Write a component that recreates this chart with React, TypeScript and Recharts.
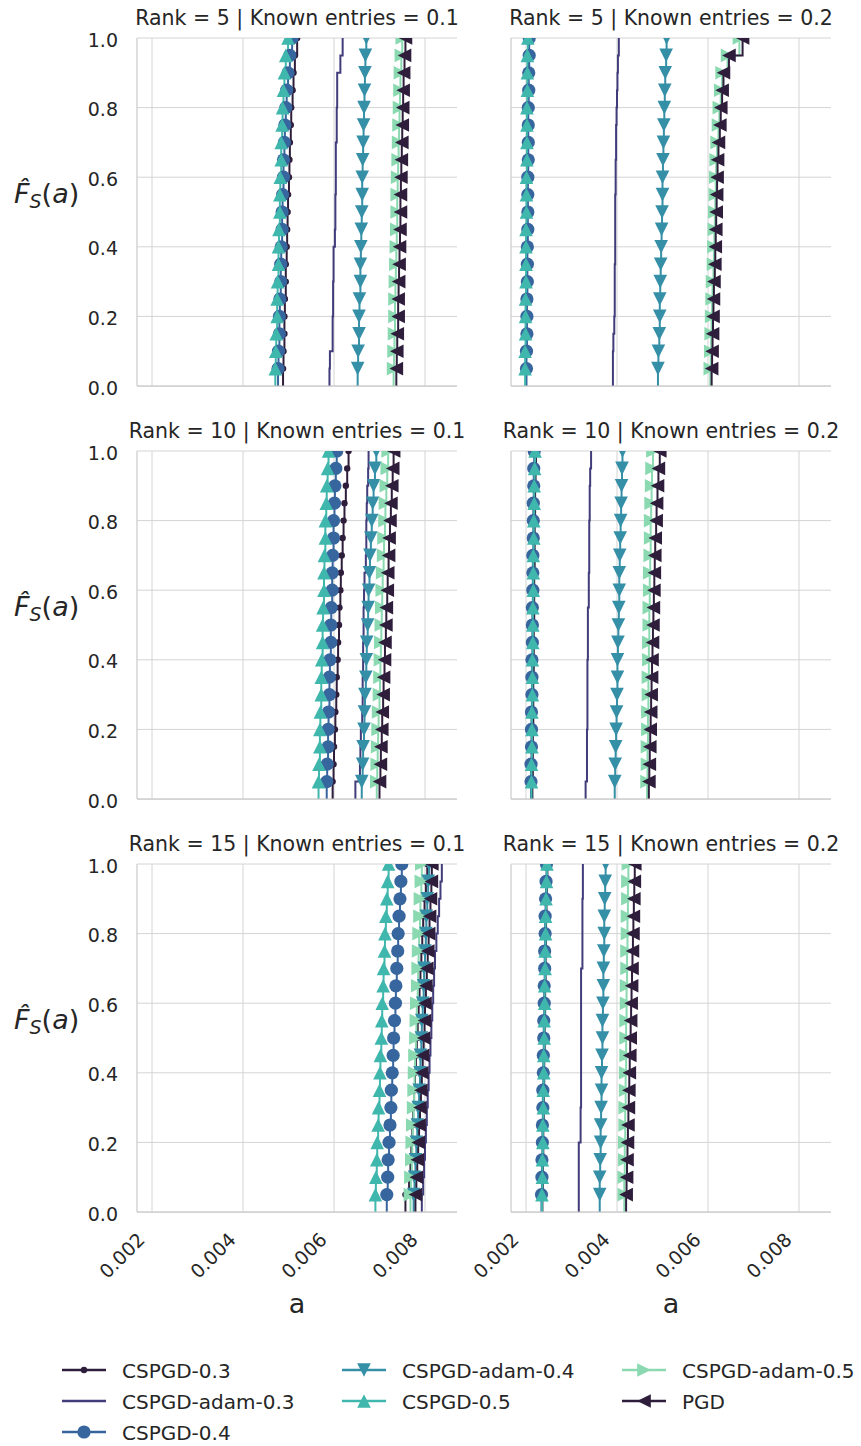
import React from 'react';
import { LineChart, Line, XAxis, YAxis, CartesianGrid } from 'recharts';

// methods in hue order, mako colours (PGD wraps back to the first colour)
const methods = ['CSPGD-0.3', 'CSPGD-adam-0.3', 'CSPGD-0.4', 'CSPGD-adam-0.4', 'CSPGD-0.5', 'CSPGD-adam-0.5', 'PGD'];
const colors = ['#2e1e3b', '#413d7b', '#37659e', '#348fa7', '#40b7ad', '#8ad9b1', '#2e1e3b'];
const markers = ['dot', 'none', 'circle', 'down', 'up', 'right', 'left'];

const ranks = [5, 10, 15];
const knownEntries = [0.1, 0.2];
const xTicks = [0.002, 0.004, 0.006, 0.008];
const yTicks = [0, 0.2, 0.4, 0.6, 0.8, 1];
const xDomain = [0.00167, 0.0087033];

// 20 runs per method, one row per method (same order as `methods`)
const rank5Known01 = [
  [0.00488, 0.00489, 0.00491, 0.00491, 0.00492, 0.00494, 0.00494, 0.00496, 0.00497, 0.00498, 0.00499, 0.00501, 0.00502, 0.00503, 0.00505, 0.00506, 0.00509, 0.00511, 0.00514, 0.00519],
  [0.0059, 0.00591, 0.00597, 0.00597, 0.00598, 0.00598, 0.00599, 0.00599, 0.00602, 0.00603, 0.00603, 0.00604, 0.00604, 0.00604, 0.00606, 0.00606, 0.00607, 0.00607, 0.00614, 0.00619],
  [0.00477, 0.00478, 0.0048, 0.0048, 0.00481, 0.00483, 0.00483, 0.00484, 0.00486, 0.00486, 0.00487, 0.00489, 0.00489, 0.00491, 0.00492, 0.00494, 0.00496, 0.00499, 0.00503, 0.00508],
  [0.00652, 0.00653, 0.00655, 0.00655, 0.00656, 0.00658, 0.00658, 0.00659, 0.0066, 0.00661, 0.00662, 0.00662, 0.00663, 0.00664, 0.00665, 0.00666, 0.00667, 0.00668, 0.00669, 0.00671],
  [0.00471, 0.00472, 0.00473, 0.00475, 0.00475, 0.00476, 0.00478, 0.00478, 0.00479, 0.00481, 0.00481, 0.00482, 0.00484, 0.00484, 0.00486, 0.00487, 0.00489, 0.00491, 0.00494, 0.00499],
  [0.00731, 0.00732, 0.00733, 0.00734, 0.00734, 0.00735, 0.00736, 0.00737, 0.00738, 0.00739, 0.00739, 0.0074, 0.00741, 0.00742, 0.00743, 0.00744, 0.00745, 0.00746, 0.00748, 0.0075],
  [0.00737, 0.00738, 0.00739, 0.00741, 0.00741, 0.00742, 0.00743, 0.00744, 0.00745, 0.00746, 0.00746, 0.00747, 0.00748, 0.00749, 0.0075, 0.00751, 0.00752, 0.00753, 0.00755, 0.00757],
];

const rank5Known02 = [
  [0.002, 0.002, 0.00201, 0.00201, 0.00201, 0.00201, 0.00202, 0.00202, 0.00202, 0.00202, 0.00203, 0.00203, 0.00203, 0.00203, 0.00203, 0.00204, 0.00204, 0.00204, 0.00205, 0.00205],
  [0.00391, 0.00391, 0.00392, 0.00394, 0.00395, 0.00395, 0.00395, 0.00396, 0.00396, 0.00396, 0.00396, 0.00397, 0.00397, 0.00398, 0.00398, 0.00399, 0.004, 0.00401, 0.00402, 0.00404],
  [0.00201, 0.00201, 0.00202, 0.00202, 0.00202, 0.00203, 0.00203, 0.00203, 0.00204, 0.00204, 0.00204, 0.00204, 0.00205, 0.00205, 0.00205, 0.00205, 0.00206, 0.00206, 0.00207, 0.00207],
  [0.0049, 0.00491, 0.00493, 0.00494, 0.00494, 0.00495, 0.00496, 0.00497, 0.00498, 0.00499, 0.005, 0.005, 0.00501, 0.00502, 0.00503, 0.00504, 0.00505, 0.00506, 0.00508, 0.00509],
  [0.00198, 0.00198, 0.00199, 0.00199, 0.00199, 0.002, 0.002, 0.002, 0.002, 0.00201, 0.00201, 0.00201, 0.00202, 0.00202, 0.00202, 0.00202, 0.00203, 0.00203, 0.00203, 0.00204],
  [0.00605, 0.00606, 0.00607, 0.00608, 0.00609, 0.0061, 0.00612, 0.00613, 0.00614, 0.00615, 0.00616, 0.00617, 0.00618, 0.0062, 0.00623, 0.00625, 0.00628, 0.00631, 0.00643, 0.00669],
  [0.00608, 0.00609, 0.0061, 0.00611, 0.00612, 0.00613, 0.00615, 0.00616, 0.00617, 0.00618, 0.00619, 0.0062, 0.00621, 0.00623, 0.00626, 0.00628, 0.00631, 0.00634, 0.00646, 0.00676],
];

const rank10Known01 = [
  [0.00597, 0.00599, 0.006, 0.00602, 0.00603, 0.00605, 0.00606, 0.00608, 0.00609, 0.00611, 0.00612, 0.00614, 0.00615, 0.00617, 0.00619, 0.00621, 0.00623, 0.00626, 0.00629, 0.00632],
  [0.00647, 0.00657, 0.00658, 0.00659, 0.00662, 0.00663, 0.00663, 0.00664, 0.00664, 0.00665, 0.00665, 0.00666, 0.00667, 0.0067, 0.00671, 0.00671, 0.00672, 0.00673, 0.00675, 0.00676],
  [0.00584, 0.00585, 0.00587, 0.00587, 0.00588, 0.0059, 0.0059, 0.00591, 0.00593, 0.00593, 0.00594, 0.00596, 0.00596, 0.00597, 0.00599, 0.00599, 0.00601, 0.00602, 0.00604, 0.00606],
  [0.00661, 0.00663, 0.00664, 0.00666, 0.00667, 0.00668, 0.0067, 0.00671, 0.00672, 0.00674, 0.00675, 0.00676, 0.00678, 0.00679, 0.00681, 0.00683, 0.00685, 0.00687, 0.0069, 0.00693],
  [0.00566, 0.00567, 0.00569, 0.00569, 0.0057, 0.00572, 0.00572, 0.00573, 0.00575, 0.00575, 0.00576, 0.00578, 0.00578, 0.00579, 0.00581, 0.00581, 0.00583, 0.00584, 0.00586, 0.00588],
  [0.00694, 0.00695, 0.00696, 0.00697, 0.00698, 0.007, 0.00701, 0.00702, 0.00703, 0.00704, 0.00705, 0.00706, 0.00707, 0.00709, 0.0071, 0.00712, 0.00713, 0.00715, 0.00717, 0.00719],
  [0.007, 0.00702, 0.00703, 0.00705, 0.00706, 0.00708, 0.00709, 0.00711, 0.00712, 0.00714, 0.00715, 0.00717, 0.00718, 0.0072, 0.00721, 0.00723, 0.00725, 0.00727, 0.00729, 0.00731],
];

const rank10Known02 = [
  [0.00214, 0.00215, 0.00215, 0.00215, 0.00216, 0.00216, 0.00216, 0.00217, 0.00217, 0.00217, 0.00218, 0.00218, 0.00218, 0.00219, 0.00219, 0.00219, 0.0022, 0.0022, 0.00221, 0.00222],
  [0.00331, 0.00334, 0.00334, 0.00334, 0.00335, 0.00335, 0.00335, 0.00335, 0.00336, 0.00336, 0.00336, 0.00338, 0.00338, 0.00339, 0.00339, 0.00339, 0.0034, 0.0034, 0.00341, 0.00343],
  [0.00211, 0.00211, 0.00212, 0.00212, 0.00212, 0.00213, 0.00213, 0.00213, 0.00214, 0.00214, 0.00214, 0.00215, 0.00215, 0.00215, 0.00216, 0.00216, 0.00216, 0.00217, 0.00217, 0.00218],
  [0.00395, 0.00396, 0.00397, 0.00398, 0.00399, 0.004, 0.00401, 0.00401, 0.00402, 0.00403, 0.00404, 0.00405, 0.00405, 0.00406, 0.00407, 0.00408, 0.00409, 0.0041, 0.00411, 0.00412],
  [0.00212, 0.00212, 0.00213, 0.00213, 0.00213, 0.00214, 0.00214, 0.00214, 0.00215, 0.00215, 0.00215, 0.00216, 0.00216, 0.00216, 0.00217, 0.00217, 0.00218, 0.00218, 0.00219, 0.0022],
  [0.00466, 0.00467, 0.00467, 0.00468, 0.00468, 0.00469, 0.00469, 0.0047, 0.0047, 0.00471, 0.00471, 0.00472, 0.00472, 0.00473, 0.00474, 0.00474, 0.00475, 0.00476, 0.00477, 0.00479],
  [0.0047, 0.00471, 0.00472, 0.00473, 0.00474, 0.00475, 0.00476, 0.00477, 0.00478, 0.00479, 0.0048, 0.00481, 0.00482, 0.00483, 0.00484, 0.00486, 0.00487, 0.00489, 0.00491, 0.00494],
];

const rank15Known01 = [
  [0.00757, 0.00765, 0.00768, 0.0077, 0.00772, 0.00774, 0.00776, 0.00778, 0.0078, 0.00782, 0.00784, 0.00786, 0.00788, 0.0079, 0.00792, 0.00794, 0.00796, 0.00799, 0.00802, 0.00805],
  [0.00793, 0.00796, 0.00798, 0.008, 0.00802, 0.00804, 0.00806, 0.00808, 0.0081, 0.00812, 0.00814, 0.00816, 0.00818, 0.0082, 0.00822, 0.00825, 0.00828, 0.00831, 0.00834, 0.00837],
  [0.00716, 0.00718, 0.00719, 0.00721, 0.00723, 0.00725, 0.00726, 0.00728, 0.0073, 0.00731, 0.00733, 0.00735, 0.00736, 0.00738, 0.0074, 0.00741, 0.00743, 0.00745, 0.00747, 0.00749],
  [0.00775, 0.00777, 0.00779, 0.00781, 0.00783, 0.00785, 0.00787, 0.00789, 0.0079, 0.00792, 0.00793, 0.00795, 0.00797, 0.00798, 0.008, 0.00802, 0.00803, 0.00805, 0.00807, 0.00809],
  [0.00691, 0.00692, 0.00694, 0.00695, 0.00697, 0.00698, 0.007, 0.00701, 0.00702, 0.00704, 0.00705, 0.00706, 0.00708, 0.00709, 0.00711, 0.00712, 0.00714, 0.00716, 0.00718, 0.0072],
  [0.00768, 0.00769, 0.00771, 0.00772, 0.00773, 0.00775, 0.00776, 0.00777, 0.00778, 0.0078, 0.00781, 0.00782, 0.00784, 0.00785, 0.00786, 0.00787, 0.00789, 0.0079, 0.00792, 0.00793],
  [0.00779, 0.00781, 0.00783, 0.00785, 0.00787, 0.00789, 0.00791, 0.00793, 0.00795, 0.00797, 0.00799, 0.008, 0.00802, 0.00804, 0.00806, 0.00808, 0.0081, 0.00812, 0.00814, 0.00815],
];

const rank15Known02 = [
  [0.00236, 0.00237, 0.00237, 0.00238, 0.00238, 0.00239, 0.00239, 0.0024, 0.0024, 0.00241, 0.00241, 0.00242, 0.00242, 0.00243, 0.00243, 0.00244, 0.00244, 0.00245, 0.00246, 0.00247],
  [0.00316, 0.00316, 0.00316, 0.00316, 0.0032, 0.0032, 0.00321, 0.00321, 0.00321, 0.00321, 0.00321, 0.00321, 0.00321, 0.00321, 0.00324, 0.00324, 0.00324, 0.00324, 0.00325, 0.00325],
  [0.00234, 0.00235, 0.00235, 0.00236, 0.00236, 0.00237, 0.00237, 0.00238, 0.00238, 0.00239, 0.00239, 0.0024, 0.0024, 0.00241, 0.00241, 0.00242, 0.00242, 0.00243, 0.00244, 0.00245],
  [0.00362, 0.00362, 0.00363, 0.00364, 0.00364, 0.00365, 0.00366, 0.00366, 0.00367, 0.00368, 0.00368, 0.00369, 0.0037, 0.0037, 0.00371, 0.00372, 0.00372, 0.00373, 0.00374, 0.00375],
  [0.00235, 0.00236, 0.00236, 0.00237, 0.00237, 0.00238, 0.00238, 0.00239, 0.00239, 0.0024, 0.0024, 0.00241, 0.00241, 0.00242, 0.00242, 0.00243, 0.00243, 0.00244, 0.00245, 0.00246],
  [0.00416, 0.00416, 0.00417, 0.00417, 0.00418, 0.00418, 0.00419, 0.00419, 0.0042, 0.0042, 0.0042, 0.00421, 0.00421, 0.00422, 0.00422, 0.00423, 0.00423, 0.00424, 0.00424, 0.00425],
  [0.0042, 0.00421, 0.00422, 0.00423, 0.00424, 0.00425, 0.00426, 0.00427, 0.00428, 0.00429, 0.0043, 0.00431, 0.00432, 0.00433, 0.00434, 0.00435, 0.00436, 0.00437, 0.00438, 0.00439],
];

const panels = [
  [rank5Known01, rank5Known02],
  [rank10Known01, rank10Known02],
  [rank15Known01, rank15Known02],
];

const FONT = '"DejaVu Sans", sans-serif';
const TEXT = '#262626';
const GRID = '#d4d4d4';
const SPINE = { stroke: '#cccccc', strokeWidth: 1.25 };

const plotTops = [38, 451, 864];
const plotLefts = [137, 511];
const plotW = 320;
const plotH = 348;
const xAxisH = 100;
const panelCenters = [297, 671];

// empirical CDF in steps-post form: starts at (x1, 0), then one point per run
function ecdf(vals: number[]) {
  const sorted = [...vals].sort((a, b) => a - b);
  const n = sorted.length;
  return [{ a: sorted[0], p: 0, first: true }, ...sorted.map((a, i) => ({ a, p: (i + 1) / n, first: false }))];
}

function MarkerShape({ kind, cx, cy, color }: { kind: string; cx: number; cy: number; color: string }) {
  const s = 6.8;
  switch (kind) {
    case 'dot':
      return <circle cx={cx} cy={cy} r={3.2} fill={color} />;
    case 'circle':
      return <circle cx={cx} cy={cy} r={6.6} fill={color} />;
    case 'down':
      return <polygon points={`${cx - s},${cy - s} ${cx + s},${cy - s} ${cx},${cy + s}`} fill={color} />;
    case 'up':
      return <polygon points={`${cx - s},${cy + s} ${cx + s},${cy + s} ${cx},${cy - s}`} fill={color} />;
    case 'right':
      return <polygon points={`${cx - s},${cy - s} ${cx - s},${cy + s} ${cx + s},${cy}`} fill={color} />;
    case 'left':
      return <polygon points={`${cx + s},${cy - s} ${cx + s},${cy + s} ${cx - s},${cy}`} fill={color} />;
    default:
      return null;
  }
}

const XTick = (props: any) => {
  const { x, y, payload } = props;
  const tx = x - 6;
  const ty = y + 27;
  return (
    <text x={tx} y={ty} transform={`rotate(-45 ${tx} ${ty})`} textAnchor="end" fontFamily={FONT} fontSize={19} fill={TEXT}>
      {payload.value.toFixed(3)}
    </text>
  );
};

const YTick = (props: any) => {
  const { x, y, payload } = props;
  return (
    <text x={x - 17} y={y + 8.5} textAnchor="end" fontFamily={FONT} fontSize={19} fill={TEXT}>
      {payload.value.toFixed(1)}
    </text>
  );
};

// keeps the tick positions (and so the grid) without drawing a label
const NoTick = (props: any) => <g key={props.index} />;

function Panel({ runs, row, col }: { runs: number[][]; row: number; col: number }) {
  const isLeft = col === 0;
  const isBottom = row === panels.length - 1;
  const chartLeft = isLeft ? 0 : 470;
  const yAxisWidth = plotLefts[col] - chartLeft;
  const width = yAxisWidth + plotW + 3;
  return (
    <div style={{ position: 'absolute', left: chartLeft, top: plotTops[row] - 10 }}>
      <LineChart width={width} height={10 + plotH + xAxisH} margin={{ top: 10, right: 3, bottom: 0, left: 0 }}>
        <CartesianGrid stroke={GRID} strokeWidth={1} verticalValues={xTicks} horizontalValues={yTicks} />
        <XAxis
          type="number"
          dataKey="a"
          domain={xDomain}
          allowDataOverflow
          ticks={xTicks}
          interval={0}
          height={xAxisH}
          axisLine={SPINE}
          tickLine={false}
          tickSize={0}
          tick={isBottom ? (p: any) => <XTick {...p} /> : NoTick}
        />
        <YAxis
          type="number"
          domain={[0, 1]}
          allowDataOverflow
          ticks={yTicks}
          interval={0}
          width={yAxisWidth}
          axisLine={SPINE}
          tickLine={false}
          tickSize={0}
          tick={isLeft ? (p: any) => <YTick {...p} /> : NoTick}
        />
        {runs.map((vals, i) => (
          <Line
            key={methods[i]}
            name={methods[i]}
            data={ecdf(vals)}
            dataKey="p"
            type="stepAfter"
            stroke={colors[i]}
            strokeWidth={2}
            isAnimationActive={false}
            activeDot={false}
            dot={(p: any) => {
              if (p.payload.first || markers[i] === 'none') return <g key={`d-${i}-${p.index}`} />;
              return (
                <g key={`d-${i}-${p.index}`}>
                  <MarkerShape kind={markers[i]} cx={p.cx} cy={p.cy} color={colors[i]} />
                </g>
              );
            }}
          />
        ))}
      </LineChart>
    </div>
  );
}

function YLabel({ base }: { base: number }) {
  return (
    <text x={14} y={base} fontSize={27} fontFamily={FONT} fill={TEXT}>
      <tspan fontStyle="italic">{'F\u0302'}</tspan>
      <tspan fontStyle="italic" fontSize={19} dy={5}>S</tspan>
      <tspan dy={-5}>(</tspan>
      <tspan fontStyle="italic">a</tspan>
      <tspan>)</tspan>
    </text>
  );
}

const legendSlots = [
  [62, 1370], [62, 1401], [62, 1432],
  [342, 1370], [342, 1401],
  [622, 1370], [622, 1401],
];

function Overlay() {
  return (
    <svg width={861} height={1446} style={{ position: 'absolute', left: 0, top: 0, pointerEvents: 'none' }}>
      {ranks.map((rank, r) =>
        knownEntries.map((known, c) => (
          <text key={`t-${r}-${c}`} x={panelCenters[c]} y={plotTops[r] - 13} textAnchor="middle" fontFamily={FONT} fontSize={20.5} fill={TEXT}>
            {`Rank = ${rank} | Known entries = ${known}`}
          </text>
        ))
      )}
      {plotTops.map((t) => (
        <YLabel key={`y-${t}`} base={t + 165} />
      ))}
      {panelCenters.map((cx) => (
        <text key={`a-${cx}`} x={cx} y={1313} textAnchor="middle" fontFamily={FONT} fontSize={27} fill={TEXT}>a</text>
      ))}
      {methods.map((m, i) => {
        const [lx, ly] = legendSlots[i];
        return (
          <g key={`l-${m}`}>
            <line x1={lx} y1={ly} x2={lx + 44} y2={ly} stroke={colors[i]} strokeWidth={2.5} />
            <MarkerShape kind={markers[i]} cx={lx + 22} cy={ly} color={colors[i]} />
            <text x={lx + 60} y={ly + 7.5} fontFamily={FONT} fontSize={20} fill={TEXT}>{m}</text>
          </g>
        );
      })}
    </svg>
  );
}

export default function App() {
  return (
    <div style={{ position: 'absolute', left: 0, top: 0, width: 861, height: 1446, background: '#fff' }}>
      {panels.map((rowPanels, r) => rowPanels.map((runs, c) => <Panel key={`p-${r}-${c}`} runs={runs} row={r} col={c} />))}
      <Overlay />
    </div>
  );
}
